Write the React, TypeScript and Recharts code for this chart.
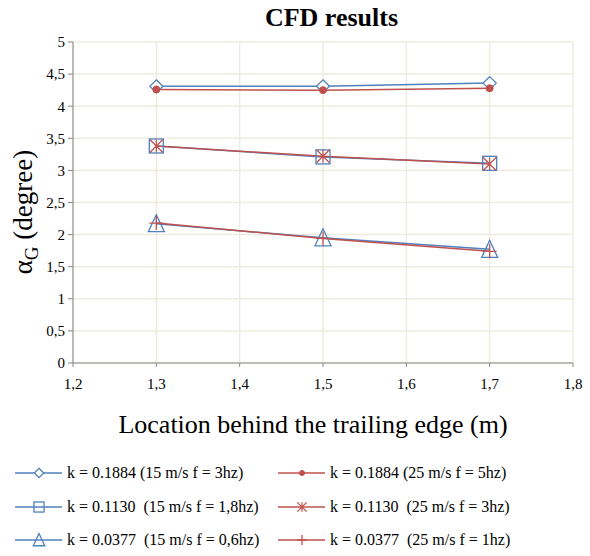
import React from 'react';
import { LineChart, Line, XAxis, YAxis, CartesianGrid, Legend } from 'recharts';

const positions = [1.3, 1.5, 1.7];
const k1884At15 = [4.31, 4.31, 4.36];
const k1884At25 = [4.26, 4.25, 4.28];
const k1130At15 = [3.38, 3.21, 3.11];
const k1130At25 = [3.38, 3.22, 3.1];
const k0377At15 = [2.17, 1.95, 1.77];
const k0377At25 = [2.18, 1.94, 1.74];
const xTicks = [1.2, 1.3, 1.4, 1.5, 1.6, 1.7, 1.8];
const yTicks = [0, 0.5, 1, 1.5, 2, 2.5, 3, 3.5, 4, 4.5, 5];

const BLUE = '#4F81BD';
const RED = '#C0504D';
const FONT = "'Liberation Serif', 'DejaVu Serif', serif";

const data = positions.map((x, i) => ({
  x,
  a: k1884At15[i],
  b: k1884At25[i],
  c: k1130At15[i],
  d: k1130At25[i],
  e: k0377At15[i],
  f: k0377At25[i],
}));

type Mark = 'diamond' | 'dot' | 'square' | 'star' | 'triangle' | 'plus';

const Marker = ({ kind, cx, cy, s = 1 }: { kind: Mark; cx: number; cy: number; s?: number }) => {
  if (kind === 'diamond') {
    const r = 6.5 * s;
    return <path d={`M${cx},${cy - r}L${cx + r},${cy}L${cx},${cy + r}L${cx - r},${cy}Z`} fill="#fff" stroke={BLUE} strokeWidth={1.3} />;
  }
  if (kind === 'dot') return <circle cx={cx} cy={cy} r={3.5 * s} fill={RED} stroke={RED} />;
  if (kind === 'square') {
    const r = 7 * s;
    return <rect x={cx - r} y={cy - r} width={2 * r} height={2 * r} fill="none" stroke={BLUE} strokeWidth={1.3} />;
  }
  if (kind === 'star') {
    const r = 6.5 * s;
    return (
      <path
        d={`M${cx - r},${cy - r}L${cx + r},${cy + r}M${cx - r},${cy + r}L${cx + r},${cy - r}M${cx},${cy - r}L${cx},${cy + r}`}
        stroke={RED}
        strokeWidth={1.2}
        fill="none"
      />
    );
  }
  if (kind === 'triangle') {
    const w = 8 * s;
    return <path d={`M${cx},${cy - 9 * s}L${cx + w},${cy + 8 * s}L${cx - w},${cy + 8 * s}Z`} fill="none" stroke={BLUE} strokeWidth={1.3} />;
  }
  const r = 7 * s;
  return <path d={`M${cx - r},${cy}L${cx + r},${cy}M${cx},${cy - r}L${cx},${cy + r}`} stroke={RED} strokeWidth={1.3} fill="none" />;
};

const dotFor = (kind: Mark) => (p: any) => <Marker key={p.index} kind={kind} cx={p.cx} cy={p.cy} />;

const series: { key: string; name: string; color: string; mark: Mark }[] = [
  { key: 'a', name: 'k = 0.1884 (15 m/s f = 3hz)', color: BLUE, mark: 'diamond' },
  { key: 'b', name: 'k = 0.1884 (25 m/s f = 5hz)', color: RED, mark: 'dot' },
  { key: 'c', name: 'k = 0.1130  (15 m/s f = 1,8hz)', color: BLUE, mark: 'square' },
  { key: 'd', name: 'k = 0.1130  (25 m/s f = 3hz)', color: RED, mark: 'star' },
  { key: 'e', name: 'k = 0.0377  (15 m/s f = 0,6hz)', color: BLUE, mark: 'triangle' },
  { key: 'f', name: 'k = 0.0377  (25 m/s f = 1hz)', color: RED, mark: 'plus' },
];

const LegendBox = () => (
  <div style={{ position: 'relative', width: 590, height: 100, fontFamily: FONT, fontSize: 16, color: '#000' }}>
    {series.map((s, i) => {
      const col = i % 2;
      const row = Math.floor(i / 2);
      const left = col === 0 ? 15 : 278;
      return (
        <div key={s.key} style={{ position: 'absolute', left, top: row * 33.5, height: 34, display: 'flex', alignItems: 'center', whiteSpace: 'pre' }}>
          <svg width={48} height={20} style={{ marginRight: 4 }}>
            <line x1={0} y1={10} x2={47} y2={10} stroke={s.color} strokeWidth={1.3} />
            <Marker kind={s.mark} cx={24} cy={10} s={0.72} />
          </svg>
          <span>{s.name}</span>
        </div>
      );
    })}
  </div>
);

const fmt = (v: number) => String(v).replace('.', ',');

const YLabel = () => (
  <text transform="translate(32,212) rotate(-90)" textAnchor="middle" fontFamily={FONT} fontSize={27} fill="#000">
    α<tspan fontSize={19} dy={6}>G</tspan>
    <tspan dy={-6}> (degree)</tspan>
  </text>
);

const XLabel = () => (
  <text x={313} y={433} textAnchor="middle" fontFamily={FONT} fontSize={26} fill="#000">
    Location behind the trailing edge (m)
  </text>
);

export default function App() {
  return (
    <div style={{ position: 'absolute', left: 0, top: 0, width: 590, height: 556, background: '#fff' }}>
      <div
        style={{
          position: 'absolute',
          left: 0,
          top: 3,
          width: 663,
          textAlign: 'center',
          fontFamily: FONT,
          fontWeight: 'bold',
          fontSize: 26,
          lineHeight: '30px',
          color: '#000',
          zIndex: 1,
        }}
      >
        CFD results
      </div>
      <LineChart width={590} height={556} data={data} margin={{ top: 42, right: 17, left: 0, bottom: 13 }}>
        <CartesianGrid stroke="#EEECE1" strokeWidth={1.5} horizontal vertical />
        <XAxis
          dataKey="x"
          type="number"
          domain={[1.2, 1.8]}
          ticks={xTicks}
          tickFormatter={fmt}
          height={80}
          stroke="#868686"
          tickSize={4}
          tickMargin={11}
          tick={{ fontFamily: FONT, fontSize: 15, fill: '#000' }}
          label={<XLabel />}
        />
        <YAxis
          type="number"
          domain={[0, 5]}
          ticks={yTicks}
          tickFormatter={fmt}
          width={73}
          stroke="#868686"
          tickSize={5}
          tickMargin={3}
          tick={{ fontFamily: FONT, fontSize: 15, fill: '#000' }}
          label={<YLabel />}
        />
        <Legend verticalAlign="bottom" content={<LegendBox />} wrapperStyle={{ height: 100, left: 0, bottom: 0, width: 590 }} />
        {series.map((s) => (
          <Line
            key={s.key}
            dataKey={s.key}
            name={s.name}
            stroke={s.color}
            strokeWidth={1.5}
            type="linear"
            dot={dotFor(s.mark)}
            activeDot={false}
            isAnimationActive={false}
          />
        ))}
      </LineChart>
    </div>
  );
}
